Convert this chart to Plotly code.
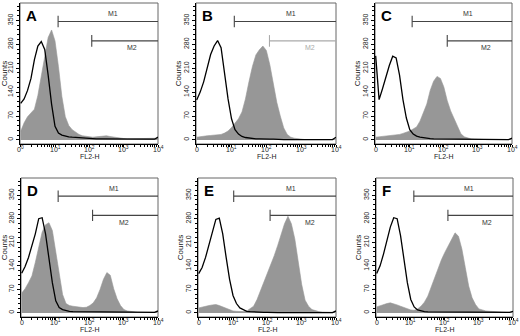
import plotly.graph_objects as go

# Bin positions (log10 of FL2-H channel), 0.0 .. 4.0 step 0.1
log_bins = [0.0, 0.1, 0.2, 0.3, 0.4, 0.5, 0.6, 0.7, 0.8, 0.9,
            1.0, 1.1, 1.2, 1.3, 1.4, 1.5, 1.6, 1.7, 1.8, 1.9,
            2.0, 2.1, 2.2, 2.3, 2.4, 2.5, 2.6, 2.7, 2.8, 2.9,
            3.0, 3.1, 3.2, 3.3, 3.4, 3.5, 3.6, 3.7, 3.8, 3.9, 4.0]

panel_labels = ["A", "B", "C", "D", "E", "F"]

# Isotype control (black outline) counts
control_A = [107, 120, 145, 180, 235, 275, 288, 265, 190, 105, 40, 20, 14, 11, 9, 8, 7, 6, 5, 4,
             4, 3, 3, 3, 3, 3, 2, 2, 2, 2, 2, 2, 2, 2, 2, 2, 2, 2, 2, 2, 8]
control_B = [117, 140, 170, 210, 250, 275, 291, 270, 190, 120, 62, 30, 17, 10, 7, 5, 4, 3, 3, 2,
             2, 2, 2, 1, 1, 1, 1, 1, 1, 1, 1, 1, 1, 1, 1, 1, 1, 1, 1, 1, 8]
control_C = [246, 118, 150, 185, 218, 245, 240, 190, 118, 64, 30, 17, 11, 8, 6, 5, 4, 3, 3, 2,
             2, 2, 2, 1, 1, 1, 1, 1, 1, 1, 1, 1, 1, 1, 1, 1, 1, 1, 1, 1, 5]
control_D = [118, 138, 165, 200, 235, 280, 283, 235, 160, 90, 36, 16, 10, 7, 5, 4, 4, 3, 3, 2,
             2, 2, 2, 2, 2, 2, 2, 2, 2, 2, 2, 2, 2, 2, 2, 2, 2, 2, 2, 2, 6]
control_E = [117, 135, 165, 204, 245, 278, 282, 235, 165, 100, 52, 28, 15, 9, 5, 4, 3, 3, 2, 2,
             2, 1, 1, 1, 1, 1, 1, 1, 1, 1, 1, 1, 1, 1, 1, 1, 1, 1, 1, 1, 6]
control_F = [117, 140, 175, 215, 255, 283, 280, 230, 160, 90, 40, 18, 9, 6, 4, 3, 3, 2, 2, 2,
             2, 2, 2, 2, 2, 2, 2, 2, 2, 2, 2, 2, 2, 2, 2, 2, 2, 2, 2, 2, 5]

# Stained sample (grey filled) counts
stain_A = [25, 50, 68, 80, 90, 130, 185, 250, 300, 322, 290, 215, 127, 68, 42, 30, 22, 16, 12, 10,
           8, 8, 9, 10, 12, 12, 10, 8, 6, 5, 4, 3, 3, 3, 3, 3, 3, 3, 3, 3, 5]
stain_B = [8, 10, 12, 12, 13, 14, 15, 16, 20, 26, 36, 50, 62, 82, 120, 170, 215, 249, 264, 275,
           262, 220, 160, 110, 70, 35, 16, 8, 5, 3, 2, 1, 1, 1, 1, 1, 1, 1, 1, 1, 1]
stain_C = [8, 9, 10, 11, 12, 13, 14, 16, 19, 22, 26, 32, 38, 55, 78, 105, 145, 172, 186, 180,
           155, 115, 85, 62, 36, 18, 9, 5, 3, 2, 1, 1, 1, 1, 1, 1, 1, 1, 1, 1, 1]
stain_D = [59, 72, 90, 110, 150, 200, 240, 262, 268, 245, 180, 110, 55, 28, 22, 20, 18, 17, 16, 17,
           22, 30, 45, 70, 100, 120, 112, 72, 42, 22, 10, 6, 4, 3, 2, 2, 2, 2, 2, 2, 2]
stain_E = [15, 18, 20, 22, 24, 25, 22, 18, 12, 9, 6, 5, 4, 4, 6, 12, 20, 40, 65, 90,
           115, 140, 170, 200, 235, 265, 287, 265, 220, 150, 85, 38, 20, 10, 6, 4, 3, 2, 2, 2, 2]
stain_F = [18, 22, 26, 28, 30, 28, 24, 20, 16, 12, 9, 8, 12, 20, 32, 50, 78, 105, 135, 158,
           180, 200, 222, 238, 228, 190, 135, 80, 45, 25, 12, 8, 6, 5, 4, 3, 3, 2, 2, 2, 2]

controls = [control_A, control_B, control_C, control_D, control_E, control_F]
stains = [stain_A, stain_B, stain_C, stain_D, stain_E, stain_F]

# Marker gates (log10 start; both run to 10^4)
m1_start = [1.09, 1.08, 1.07, 1.07, 1.02, 1.09]
m2_start = [2.07, 2.09, 2.10, 2.08, 2.08, 2.09]

x_tick_exps = [0, 1, 2, 3, 4]
x_tick_text_A = ["0<sup>0</sup>", "10<sup>1</sup>", "10<sup>2</sup>", "10<sup>3</sup>", "10<sup>4</sup>"]
x_tick_text = ["0", "10<sup>1</sup>", "10<sup>2</sup>", "10<sup>3</sup>", "10<sup>4</sup>"]
y_ticks = [0, 70, 140, 210, 280, 350]

W, H = 520, 336
# panel plot-area boxes in pixels: (left, right, top, bottom)
boxes = [(20, 158, 3, 144), (196, 336, 3, 144), (375, 512, 3, 144),
         (21, 158, 178, 317), (198, 336, 178, 317), (376, 513, 178, 317)]

xs = [10 ** e for e in log_bins]
minor_x = [m * 10 ** d for d in range(4) for m in range(2, 10)]

fig = go.Figure()
layout = dict(width=W, height=H, margin=dict(l=0, r=0, t=0, b=0, autoexpand=False),
              paper_bgcolor="white", plot_bgcolor="white", showlegend=False,
              font=dict(family="Liberation Sans, Arial, sans-serif", color="#222"))
shapes = []
annotations = []
GREY = "#979797"
for i in range(6):
    n = "" if i == 0 else str(i + 1)
    xa, ya = "x" + n, "y" + n
    l, r, t, b = boxes[i]
    fig.add_trace(go.Scatter(x=xs, y=stains[i], mode="lines", line=dict(color=GREY, width=0.6),
                             fill="tozeroy", fillcolor=GREY, xaxis=xa, yaxis=ya, hoverinfo="skip"))
    fig.add_trace(go.Scatter(x=xs, y=controls[i], mode="lines", line=dict(color="black", width=1.3),
                             xaxis=xa, yaxis=ya, hoverinfo="skip"))
    layout["xaxis" + n] = dict(
        domain=[l / W, r / W], anchor=ya, type="log", range=[-0.02, 4.0], automargin=False,
        tickvals=[10 ** e for e in x_tick_exps], showticklabels=False,
        ticks="outside", ticklen=2, tickcolor="black", tickwidth=1,
        minor=dict(tickvals=minor_x, ticks="outside", ticklen=2, tickcolor="black"),
        showline=True, linecolor="black", linewidth=1.4, showgrid=False, zeroline=False)
    layout["yaxis" + n] = dict(
        domain=[1 - b / H, 1 - t / H], anchor=xa, range=[-12, 401], automargin=False,
        tickvals=y_ticks, tickangle=-90,
        ticks="outside", ticklen=3, tickcolor="black", tickwidth=1,
        minor=dict(dtick=14, ticks="outside", ticklen=2, tickcolor="black"),
        showline=True, linecolor="black", linewidth=1.4, showgrid=False, zeroline=False,
        tickfont=dict(size=7), title=dict(text="Counts", font=dict(size=8), standoff=0))
    # x tick labels and title, placed just under the axis
    texts = x_tick_text_A if i == 0 else x_tick_text
    for e, txt in zip(x_tick_exps, texts):
        annotations.append(dict(xref=xa, yref="paper", x=e, y=1 - (b + 5) / H, text=txt,
                                xanchor="center", yanchor="middle", showarrow=False,
                                font=dict(size=7, color="#222222")))
    annotations.append(dict(xref="paper", yref="paper", x=(l + r) / 2 / W, y=1 - (b + 12) / H,
                            xanchor="center", yanchor="middle", text="FL2-H", showarrow=False,
                            font=dict(size=7, color="#222222")))
    # frame (top/right)
    shapes.append(dict(type="rect", xref=xa + " domain", yref=ya + " domain", x0=0, x1=1, y0=0, y1=1,
                       line=dict(color="#666", width=1), layer="below"))
    # gates
    m2col = "#aaaaaa" if i == 1 else "#444444"
    for start, yv, col in [(m1_start[i], 347, "#444444"), (m2_start[i], 290, m2col)]:
        shapes.append(dict(type="line", xref=xa, yref=ya, x0=10 ** start, x1=10 ** 4, y0=yv, y1=yv,
                           line=dict(color=col, width=1.1)))
        shapes.append(dict(type="line", xref=xa, yref=ya, x0=10 ** start, x1=10 ** start,
                           y0=yv - 17, y1=yv + 17, line=dict(color=col, width=1.1)))
    annotations.append(dict(xref=xa, yref=ya, x=2.7, y=371, text="M1", showarrow=False,
                            font=dict(size=7, color="#333333")))
    annotations.append(dict(xref=xa, yref=ya, x=3.25 if i != 3 else 3.0, y=270, text="M2",
                            showarrow=False, font=dict(size=7, color="#aaaaaa" if i == 1 else "#333333")))
    annotations.append(dict(xref=xa + " domain", yref=ya + " domain", x=0.03, y=0.91,
                            xanchor="left", yanchor="middle", text="<b>" + panel_labels[i] + "</b>",
                            showarrow=False, font=dict(size=15, color="black")))

layout["shapes"] = shapes
layout["annotations"] = annotations
fig.update_layout(**layout)
fig.write_html("out.html", config={"displayModeBar": False, "staticPlot": True},
               post_script="document.body.style.margin='0';document.body.style.overflow='hidden';")
